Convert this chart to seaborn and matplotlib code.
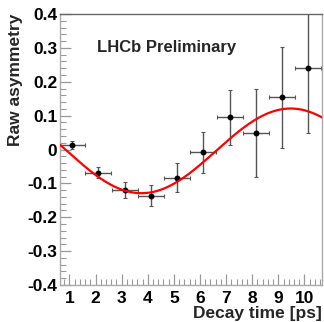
#Raw asymmetry vs decay time plot
#binned data with error bars + sinusoidal fit curve

import numpy as np
import matplotlib.pyplot as plt
import seaborn as sns
import pandas as pd
from matplotlib.ticker import MultipleLocator

#data points
time = [1.11, 2.11, 3.12, 4.13, 5.13, 6.13, 7.14, 8.14, 9.15, 10.15]
time_err = [0.5, 0.5, 0.5, 0.5, 0.5, 0.5, 0.5, 0.5, 0.5, 0.5]
asym = [0.013, -0.069, -0.119, -0.137, -0.083, -0.008, 0.095, 0.050, 0.154, 0.240]
asym_err = [0.011, 0.016, 0.023, 0.031, 0.043, 0.061, 0.081, 0.130, 0.150, 0.190]

#fit parameters (offset + A*cos(w*(t - t_max)))
fit_offset = -0.004
fit_amp = 0.125
fit_omega = 0.55
fit_tmax = 9.47

df = pd.DataFrame({'Decay time': time, 'Raw asymmetry': asym})

t = np.linspace(0.64, 10.67, 300)
fit = pd.DataFrame({'t': t, 'a': fit_offset + fit_amp*np.cos(fit_omega*(t - fit_tmax))})

sns.set_style("white")
plt.rcParams['font.family'] = ['Liberation Sans', 'DejaVu Sans']
plt.rcParams['font.weight'] = 'bold'

fig = plt.figure(figsize=(3.24, 3.22), dpi=100)
ax = fig.add_axes([60/324, 37/322, 262/324, 271/322])

ax.errorbar(time, asym, xerr=time_err, yerr=asym_err, fmt='none',
            ecolor='#555555', elinewidth=1.0, capsize=1.5, capthick=0.8, zorder=2)
sns.scatterplot(data=df, x='Decay time', y='Raw asymmetry', color='black',
                s=18, edgecolor='black', linewidth=0, ax=ax, zorder=3)
sns.lineplot(data=fit, x='t', y='a', color='#ff0000', linewidth=1.6, ax=ax, zorder=4)

ax.set_xlim(0.64, 10.67)
ax.set_ylim(-0.4, 0.4)
ax.xaxis.set_major_locator(MultipleLocator(1))
ax.xaxis.set_minor_locator(MultipleLocator(0.2))
ax.yaxis.set_major_locator(MultipleLocator(0.1))
ax.yaxis.set_minor_locator(MultipleLocator(0.02))
ax.set_yticks(np.arange(-0.4, 0.41, 0.1))
ax.set_yticklabels(['-0.4', '-0.3', '-0.2', '-0.1', '0', '0.1', '0.2', '0.3', '0.4'])

ax.tick_params(which='both', direction='in', colors='#999999', labelcolor='black',
               labelsize=12.5, bottom=True, left=True, top=False, right=False)
ax.tick_params(which='major', length=8, width=0.9)
ax.tick_params(which='minor', length=4, width=0.8)
ax.tick_params(axis='x', pad=4)
ax.tick_params(axis='y', pad=2)
for lab in ax.get_xticklabels() + ax.get_yticklabels():
    lab.set_fontweight('bold')

for s in ['left', 'right', 'bottom']:
    ax.spines[s].set_color('#aaaaaa')
    ax.spines[s].set_linewidth(1.0)
ax.spines['top'].set_color('#666666')
ax.spines['top'].set_linewidth(1.0)

ax.set_xlabel('Decay time [ps]', fontsize=12.5, fontweight='bold', loc='right', labelpad=0)
ax.set_ylabel('Raw asymmetry', fontsize=12.5, fontweight='bold', loc='top', labelpad=3)

ax.text(0.14, 0.875, 'LHCb Preliminary', transform=ax.transAxes,
        fontsize=12, fontweight='bold', va='center', ha='left')

plt.savefig('out.png', dpi=100)
